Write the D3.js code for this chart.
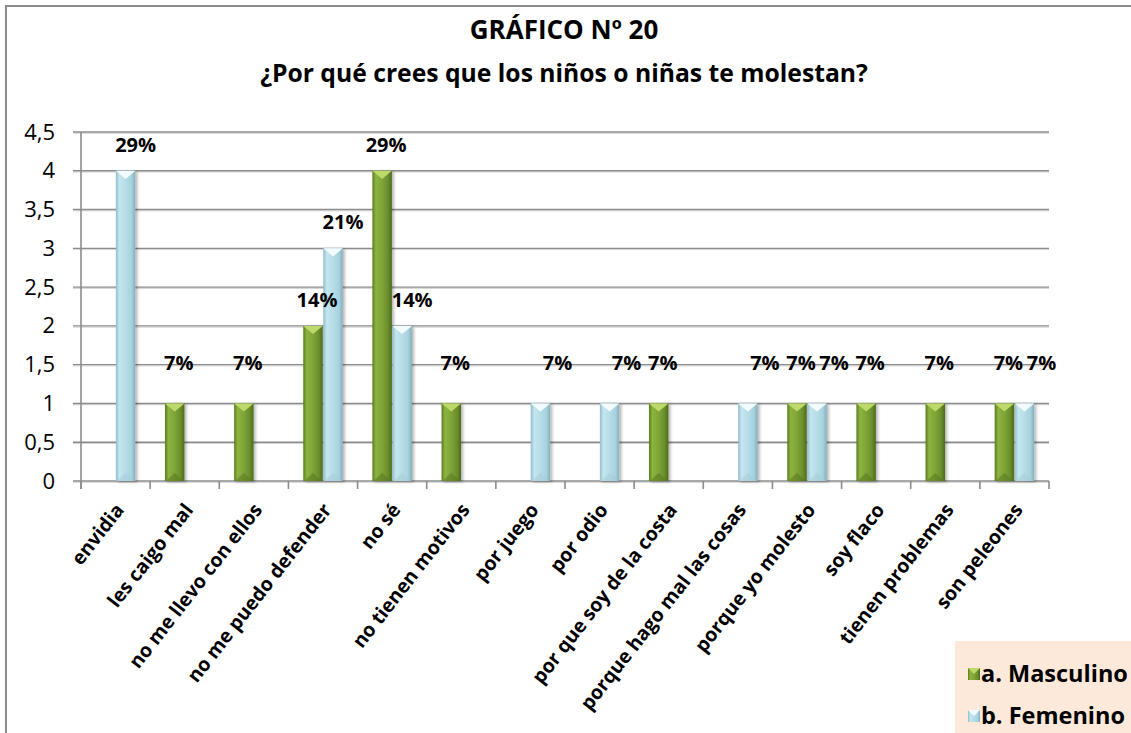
<!DOCTYPE html>
<html>
<head>
<meta charset="utf-8">
<script src="https://cdn.jsdelivr.net/npm/d3@7"></script>
<style>
	body { margin: 0; background: #fff; }
	svg { display: block; font-family: "Open Sans", Calibri, sans-serif; }
</style>
</head>
<body>
<svg id="svg" width="1131" height="733"></svg>
<script>
// data
const categories = ['envidia', 'les caigo mal', 'no me llevo con ellos', 'no me puedo defender', 'no sé',
	'no tienen motivos', 'por juego', 'por odio', 'por que soy de la costa', 'porque hago mal las cosas',
	'porque yo molesto', 'soy flaco', 'tienen problemas', 'son peleones'];
const seriesNames = ['a. Masculino', 'b. Femenino'];
const masculino = [0, 1, 1, 2, 4, 1, 0, 0, 1, 0, 1, 1, 1, 1];
const femenino = [4, 0, 0, 3, 2, 0, 1, 1, 0, 1, 1, 0, 0, 1];
const yTicks = [0, 0.5, 1, 1.5, 2, 2.5, 3, 3.5, 4, 4.5];
const titleLines = ['GRÁFICO Nº 20', '¿Por qué crees que los niños o niñas te molestan?'];

const Chart = (function () {
	const svg = d3.select('#svg');
	const margin = { top: 132, left: 81, right: 82, bottom: 252 }; // plot box 81..1049 x 132..481
	const width = 1131 - margin.left - margin.right;
	const height = 733 - margin.top - margin.bottom;

	const colors = {
		'a. Masculino': { grad: 'gM', top: '#bcd96a', bottom: '#58771f' },
		'b. Femenino': { grad: 'gF', top: '#f2fbfd', bottom: '#a6ccd8' }
	};

	function init() {
		const defs = svg.append('defs');
		addGradient(defs, 'gM', ['#5a7b20', '#8cb43f', '#7fa437', '#6b8e2d', '#4d6a1a']);
		addGradient(defs, 'gF', ['#93bccb', '#c4e6ef', '#b6dde8', '#a8d2de', '#86afbe']);
		const f = defs.append('filter').attr('id', 'shadow')
			.attr('x', '-20%').attr('y', '-10%').attr('width', '160%').attr('height', '130%');
		f.append('feDropShadow').attr('dx', 2).attr('dy', 1).attr('stdDeviation', 1.5)
			.attr('flood-color', '#000').attr('flood-opacity', 0.3);

		// outer frame (clipped on right / bottom in the original)
		svg.append('path')
			.attr('d', 'M6,740 L6,6 L1140,6')
			.attr('fill', 'none').attr('stroke', '#8c8c8c').attr('stroke-width', 2);

		// title
		svg.selectAll('.title').data(titleLines).enter().append('text')
			.attr('class', 'title')
			.attr('x', 564)
			.attr('y', (d, i) => 39 + i * 43)
			.attr('text-anchor', 'middle')
			.style('font-weight', 'bold')
			.style('font-size', (d, i) => i ? '24.7px' : '26px')
			.text(d => d);

		render();
	}

	function render() {
		const g = svg.append('g').attr('transform', `translate(${margin.left},${margin.top})`);

		const x0 = d3.scaleBand().domain(categories).range([0, width]);
		const x1 = d3.scaleBand().domain(seriesNames).range([0, x0.bandwidth()])
			.paddingInner(0.03).paddingOuter(0.74);
		const y = d3.scaleLinear().domain([0, 4.5]).range([height, 0]);

		// gridlines + y axis
		const grid = g.append('g');
		grid.selectAll('line.sh').data(yTicks).enter().append('line')
			.attr('x1', -8).attr('x2', width)
			.attr('y1', d => y(d) + 1.3).attr('y2', d => y(d) + 1.3)
			.attr('stroke', '#d4d4d4').attr('stroke-width', 1);
		grid.selectAll('line.gl').data(yTicks).enter().append('line')
			.attr('x1', -8).attr('x2', width)
			.attr('y1', d => y(d)).attr('y2', d => y(d))
			.attr('stroke', '#8c8c8c').attr('stroke-width', 1.4);

		const yAxis = d3.axisLeft(y)
			.tickValues(yTicks)
			.tickSize(0)
			.tickPadding(26)
			.tickFormat(d => String(d).replace('.', ','));
		g.append('g').call(yAxis)
			.call(a => a.select('.domain').remove())
			.selectAll('text')
			.style('font-size', '22px')
			.style('font-family', '"Open Sans", Calibri, sans-serif')
			.attr('fill', '#000');

		g.append('line')
			.attr('x1', 0).attr('x2', 0).attr('y1', 0).attr('y2', height + 8)
			.attr('stroke', '#8c8c8c').attr('stroke-width', 1.6);

		// category boundary ticks on x axis
		const bounds = categories.map(c => x0(c)).concat([width]);
		g.selectAll('line.xt').data(bounds).enter().append('line')
			.attr('x1', d => d).attr('x2', d => d)
			.attr('y1', height).attr('y2', height + 8)
			.attr('stroke', '#8c8c8c').attr('stroke-width', 1.6);

		// rotated category labels
		g.selectAll('text.cat').data(categories).enter().append('text')
			.attr('class', 'cat')
			.attr('transform', d => `translate(${x0(d) + x0.bandwidth() / 2 + 4},${height + 25}) rotate(-52)`)
			.attr('text-anchor', 'end')
			.attr('dy', '0.35em')
			.style('font-weight', 'bold')
			.style('font-size', '19.5px')
			.text(d => d);

		// bars
		const totals = {
			'a. Masculino': d3.sum(masculino),
			'b. Femenino': d3.sum(femenino)
		};
		const rows = [];
		categories.forEach((c, i) => {
			rows.push({ cat: c, key: seriesNames[0], value: masculino[i] });
			rows.push({ cat: c, key: seriesNames[1], value: femenino[i] });
		});
		const barData = rows.filter(d => d.value > 0);

		const bars = g.selectAll('g.bar').data(barData).enter().append('g')
			.attr('class', 'bar')
			.attr('transform', d => `translate(${x0(d.cat) + x1(d.key)},0)`);
		const bw = x1.bandwidth();

		bars.append('rect')
			.attr('x', 0)
			.attr('y', d => y(d.value))
			.attr('width', bw)
			.attr('height', d => y(0) - y(d.value))
			.attr('fill', d => `url(#${colors[d.key].grad})`)
			.attr('filter', 'url(#shadow)');
		// top bevel
		bars.append('path')
			.attr('d', d => `M0,${y(d.value)} L${bw},${y(d.value)} L${bw / 2},${y(d.value) + bw * 0.42} Z`)
			.attr('fill', d => colors[d.key].top);
		// bottom bevel
		bars.append('path')
			.attr('d', d => `M1,${y(0)} L${bw - 1},${y(0)} L${bw / 2},${y(0) - bw * 0.42} Z`)
			.attr('fill', d => colors[d.key].bottom)
			.attr('opacity', 0.55);

		// percent labels (excel nudged the small ones a bit)
		const labelDx = d => d.key === seriesNames[0] ? 4 : (d.value === 1 ? 17 : 10);
		g.selectAll('text.pct').data(barData).enter().append('text')
			.attr('class', 'pct')
			.attr('x', d => x0(d.cat) + x1(d.key) + bw / 2 + labelDx(d))
			.attr('y', d => y(d.value) - (d.value === 1 ? 33 : 19))
			.attr('text-anchor', 'middle')
			.style('font-weight', 'bold')
			.style('font-size', '20px')
			.text(d => Math.round(d.value / totals[d.key] * 100) + '%');

		// legend
		const lg = svg.append('g').attr('transform', 'translate(955,641)');
		lg.append('rect').attr('width', 180).attr('height', 100).attr('fill', '#fde9d9');
		const items = lg.selectAll('g.item').data(seriesNames).enter().append('g')
			.attr('class', 'item')
			.attr('transform', (d, i) => `translate(13,${33 + i * 42})`);
		items.append('rect')
			.attr('x', 0).attr('y', -6).attr('width', 12).attr('height', 12)
			.attr('fill', d => `url(#${colors[d].grad})`);
		items.append('path')
			.attr('d', 'M0,-6 L12,-6 L6,0 Z')
			.attr('fill', d => colors[d].top);
		items.append('text')
			.attr('x', 13)
			.attr('dy', '0.35em')
			.style('font-weight', 'bold')
			.style('font-size', '23.5px')
			.text(d => d);
	}

	function addGradient(defs, id, stops) {
		const lg = defs.append('linearGradient').attr('id', id)
			.attr('x1', '0%').attr('x2', '100%').attr('y1', '0%').attr('y2', '0%');
		const offs = [0, 0.18, 0.5, 0.8, 1];
		stops.forEach((c, i) => lg.append('stop').attr('offset', offs[i]).attr('stop-color', c));
	}

	return { init: init };
})();

Chart.init();
</script>
</body>
</html>
